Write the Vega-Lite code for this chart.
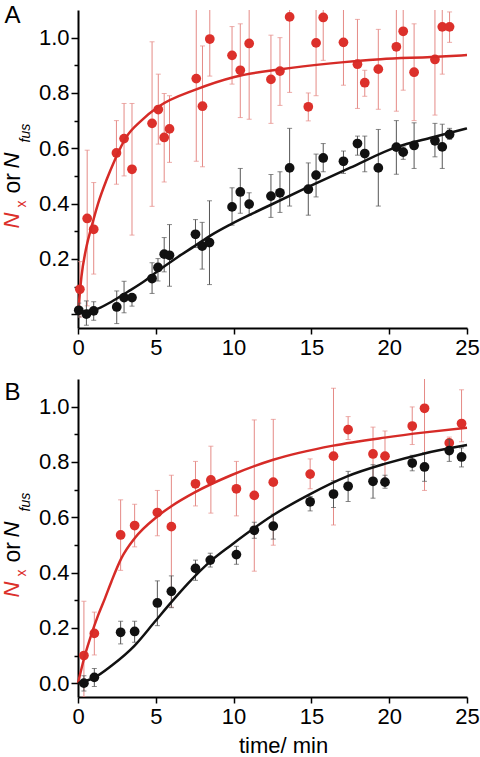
{
  "$schema": "https://vega.github.io/schema/vega-lite/v6.json",
  "padding": {"left": 0, "top": 3, "right": 0, "bottom": 0},
  "spacing": 21,
  "config": {
    "view": {"stroke": null},
    "font": "Liberation Sans",
    "axis": {
      "grid": false,
      "domainColor": "#000000",
      "domainWidth": 2,
      "tickColor": "#000000",
      "tickWidth": 1.5,
      "labelFont": "Liberation Sans",
      "labelFontSize": 22,
      "labelColor": "#000000",
      "titleFont": "Liberation Sans",
      "titleFontWeight": "normal",
      "titleColor": "#000000",
      "labelFlush": false,
      "labelOverlap": false
    }
  },
  "datasets": {
    "pts": [
      {"panel": "A", "s": "red", "t": 0.12, "y": 0.09, "lo": -0.01, "hi": 0.19},
      {"panel": "A", "s": "red", "t": 0.59, "y": 0.346, "lo": 0.03, "hi": 0.593},
      {"panel": "A", "s": "red", "t": 1.01, "y": 0.307, "lo": 0.145, "hi": 0.476},
      {"panel": "A", "s": "red", "t": 2.47, "y": 0.583, "lo": 0.47, "hi": 0.70},
      {"panel": "A", "s": "red", "t": 2.96, "y": 0.635, "lo": 0.50, "hi": 0.762},
      {"panel": "A", "s": "red", "t": 3.47, "y": 0.524, "lo": 0.286, "hi": 0.762},
      {"panel": "A", "s": "red", "t": 4.76, "y": 0.690, "lo": 0.39, "hi": 0.985},
      {"panel": "A", "s": "red", "t": 5.16, "y": 0.740, "lo": 0.615, "hi": 0.868},
      {"panel": "A", "s": "red", "t": 5.54, "y": 0.639, "lo": 0.478, "hi": 0.798},
      {"panel": "A", "s": "red", "t": 5.88, "y": 0.670, "lo": 0.549, "hi": 0.79},
      {"panel": "A", "s": "red", "t": 7.60, "y": 0.852, "lo": 0.553, "hi": 1.15},
      {"panel": "A", "s": "red", "t": 8.0, "y": 0.752, "lo": 0.533, "hi": 0.97},
      {"panel": "A", "s": "red", "t": 8.47, "y": 0.995, "lo": 0.861, "hi": 1.15},
      {"panel": "A", "s": "red", "t": 9.9, "y": 0.936, "lo": 0.832, "hi": 1.04},
      {"panel": "A", "s": "red", "t": 10.43, "y": 0.882, "lo": 0.711, "hi": 1.05},
      {"panel": "A", "s": "red", "t": 11.0, "y": 0.979, "lo": 0.705, "hi": 1.15},
      {"panel": "A", "s": "red", "t": 12.4, "y": 0.849, "lo": 0.69, "hi": 1.009},
      {"panel": "A", "s": "red", "t": 12.98, "y": 0.879, "lo": 0.755, "hi": 1.0},
      {"panel": "A", "s": "red", "t": 13.6, "y": 1.075, "lo": 0.802, "hi": 1.15},
      {"panel": "A", "s": "red", "t": 14.8, "y": 0.750, "lo": 0.699, "hi": 0.80},
      {"panel": "A", "s": "red", "t": 15.3, "y": 0.981, "lo": 0.79, "hi": 1.15},
      {"panel": "A", "s": "red", "t": 15.76, "y": 1.073, "lo": 0.918, "hi": 1.15},
      {"panel": "A", "s": "red", "t": 17.06, "y": 0.983, "lo": 0.828, "hi": 1.15},
      {"panel": "A", "s": "red", "t": 17.96, "y": 0.904, "lo": 0.744, "hi": 1.066},
      {"panel": "A", "s": "red", "t": 18.43, "y": 0.837, "lo": 0.788, "hi": 0.882},
      {"panel": "A", "s": "red", "t": 19.3, "y": 0.886, "lo": 0.741, "hi": 1.03},
      {"panel": "A", "s": "red", "t": 20.46, "y": 0.967, "lo": 0.734, "hi": 1.15},
      {"panel": "A", "s": "red", "t": 20.9, "y": 1.023, "lo": 0.81, "hi": 1.15},
      {"panel": "A", "s": "red", "t": 21.6, "y": 0.875, "lo": 0.70, "hi": 1.05},
      {"panel": "A", "s": "red", "t": 22.94, "y": 0.921, "lo": 0.72, "hi": 1.15},
      {"panel": "A", "s": "red", "t": 23.41, "y": 1.039, "lo": 0.868, "hi": 1.15},
      {"panel": "A", "s": "red", "t": 23.88, "y": 1.039, "lo": 0.983, "hi": 1.093},
      {"panel": "A", "s": "black", "t": 0.05, "y": 0.014, "lo": -0.01, "hi": 0.04},
      {"panel": "A", "s": "black", "t": 0.54, "y": 0.0, "lo": -0.04, "hi": 0.048},
      {"panel": "A", "s": "black", "t": 1.01, "y": 0.012, "lo": -0.022, "hi": 0.045},
      {"panel": "A", "s": "black", "t": 2.49, "y": 0.026, "lo": -0.034, "hi": 0.084},
      {"panel": "A", "s": "black", "t": 2.96, "y": 0.060, "lo": 0.005, "hi": 0.119},
      {"panel": "A", "s": "black", "t": 3.47, "y": 0.060, "lo": 0.029, "hi": 0.072},
      {"panel": "A", "s": "black", "t": 4.76, "y": 0.129, "lo": 0.075, "hi": 0.186},
      {"panel": "A", "s": "black", "t": 5.14, "y": 0.169, "lo": 0.12, "hi": 0.201},
      {"panel": "A", "s": "black", "t": 5.54, "y": 0.217, "lo": 0.153, "hi": 0.277},
      {"panel": "A", "s": "black", "t": 5.88, "y": 0.213, "lo": 0.101, "hi": 0.324},
      {"panel": "A", "s": "black", "t": 7.55, "y": 0.289, "lo": 0.241, "hi": 0.342},
      {"panel": "A", "s": "black", "t": 7.98, "y": 0.246, "lo": 0.163, "hi": 0.332},
      {"panel": "A", "s": "black", "t": 8.45, "y": 0.259, "lo": 0.107, "hi": 0.41},
      {"panel": "A", "s": "black", "t": 9.9, "y": 0.388, "lo": 0.322, "hi": 0.457},
      {"panel": "A", "s": "black", "t": 10.43, "y": 0.442, "lo": 0.365, "hi": 0.527},
      {"panel": "A", "s": "black", "t": 11.0, "y": 0.398, "lo": 0.358, "hi": 0.439},
      {"panel": "A", "s": "black", "t": 12.4, "y": 0.427, "lo": 0.35, "hi": 0.505},
      {"panel": "A", "s": "black", "t": 12.98, "y": 0.439, "lo": 0.368, "hi": 0.515},
      {"panel": "A", "s": "black", "t": 13.6, "y": 0.529, "lo": 0.391, "hi": 0.672},
      {"panel": "A", "s": "black", "t": 14.8, "y": 0.452, "lo": 0.358, "hi": 0.547},
      {"panel": "A", "s": "black", "t": 15.3, "y": 0.503, "lo": 0.424, "hi": 0.579},
      {"panel": "A", "s": "black", "t": 15.76, "y": 0.565, "lo": 0.515, "hi": 0.617},
      {"panel": "A", "s": "black", "t": 17.06, "y": 0.553, "lo": 0.509, "hi": 0.59},
      {"panel": "A", "s": "black", "t": 17.96, "y": 0.617, "lo": 0.575, "hi": 0.644},
      {"panel": "A", "s": "black", "t": 18.43, "y": 0.581, "lo": 0.515, "hi": 0.644},
      {"panel": "A", "s": "black", "t": 19.3, "y": 0.529, "lo": 0.391, "hi": 0.668},
      {"panel": "A", "s": "black", "t": 20.46, "y": 0.604, "lo": 0.506, "hi": 0.70},
      {"panel": "A", "s": "black", "t": 20.9, "y": 0.586, "lo": 0.56, "hi": 0.605},
      {"panel": "A", "s": "black", "t": 21.6, "y": 0.61, "lo": 0.527, "hi": 0.692},
      {"panel": "A", "s": "black", "t": 22.94, "y": 0.627, "lo": 0.569, "hi": 0.69},
      {"panel": "A", "s": "black", "t": 23.41, "y": 0.605, "lo": 0.527, "hi": 0.687},
      {"panel": "A", "s": "black", "t": 23.88, "y": 0.65, "lo": 0.632, "hi": 0.672},
      {"panel": "B", "s": "red", "t": 0.38, "y": 0.1, "lo": -0.05, "hi": 0.296},
      {"panel": "B", "s": "red", "t": 1.05, "y": 0.18, "lo": 0.102, "hi": 0.257},
      {"panel": "B", "s": "red", "t": 2.74, "y": 0.536, "lo": 0.408, "hi": 0.663},
      {"panel": "B", "s": "red", "t": 3.64, "y": 0.57, "lo": 0.493, "hi": 0.647},
      {"panel": "B", "s": "red", "t": 5.1, "y": 0.617, "lo": 0.533, "hi": 0.697},
      {"panel": "B", "s": "red", "t": 6.0, "y": 0.566, "lo": 0.275, "hi": 0.752},
      {"panel": "B", "s": "red", "t": 7.55, "y": 0.721, "lo": 0.641, "hi": 0.802},
      {"panel": "B", "s": "red", "t": 8.54, "y": 0.735, "lo": 0.615, "hi": 0.857},
      {"panel": "B", "s": "red", "t": 10.18, "y": 0.703, "lo": 0.605, "hi": 0.802},
      {"panel": "B", "s": "red", "t": 11.33, "y": 0.679, "lo": 0.405, "hi": 0.952},
      {"panel": "B", "s": "red", "t": 12.55, "y": 0.727, "lo": 0.499, "hi": 0.954},
      {"panel": "B", "s": "red", "t": 14.92, "y": 0.756, "lo": 0.703, "hi": 0.811},
      {"panel": "B", "s": "red", "t": 16.42, "y": 0.821, "lo": 0.572, "hi": 1.067},
      {"panel": "B", "s": "red", "t": 17.36, "y": 0.917, "lo": 0.881, "hi": 0.964},
      {"panel": "B", "s": "red", "t": 18.96, "y": 0.829, "lo": 0.736, "hi": 0.926},
      {"panel": "B", "s": "red", "t": 19.73, "y": 0.821, "lo": 0.73, "hi": 0.912},
      {"panel": "B", "s": "red", "t": 21.48, "y": 0.93, "lo": 0.863, "hi": 0.999},
      {"panel": "B", "s": "red", "t": 22.27, "y": 0.994, "lo": 0.697, "hi": 1.12},
      {"panel": "B", "s": "red", "t": 23.86, "y": 0.869, "lo": 0.85, "hi": 0.89},
      {"panel": "B", "s": "red", "t": 24.65, "y": 0.939, "lo": 0.873, "hi": 1.061},
      {"panel": "B", "s": "black", "t": 0.38, "y": 0.0, "lo": -0.028, "hi": 0.027},
      {"panel": "B", "s": "black", "t": 1.05, "y": 0.021, "lo": -0.012, "hi": 0.053},
      {"panel": "B", "s": "black", "t": 2.74, "y": 0.184, "lo": 0.142, "hi": 0.224},
      {"panel": "B", "s": "black", "t": 3.64, "y": 0.187, "lo": 0.148, "hi": 0.224},
      {"panel": "B", "s": "black", "t": 5.1, "y": 0.29, "lo": 0.208, "hi": 0.37},
      {"panel": "B", "s": "black", "t": 6.0, "y": 0.332, "lo": 0.273, "hi": 0.388},
      {"panel": "B", "s": "black", "t": 7.55, "y": 0.415, "lo": 0.372, "hi": 0.445},
      {"panel": "B", "s": "black", "t": 8.5, "y": 0.445, "lo": 0.42, "hi": 0.47},
      {"panel": "B", "s": "black", "t": 10.18, "y": 0.465, "lo": 0.43, "hi": 0.495},
      {"panel": "B", "s": "black", "t": 11.33, "y": 0.553, "lo": 0.524, "hi": 0.582},
      {"panel": "B", "s": "black", "t": 12.55, "y": 0.568, "lo": 0.521, "hi": 0.611},
      {"panel": "B", "s": "black", "t": 14.92, "y": 0.656, "lo": 0.623, "hi": 0.675},
      {"panel": "B", "s": "black", "t": 16.42, "y": 0.684, "lo": 0.635, "hi": 0.732},
      {"panel": "B", "s": "black", "t": 17.36, "y": 0.712, "lo": 0.657, "hi": 0.766},
      {"panel": "B", "s": "black", "t": 18.96, "y": 0.73, "lo": 0.669, "hi": 0.79},
      {"panel": "B", "s": "black", "t": 19.73, "y": 0.727, "lo": 0.705, "hi": 0.752},
      {"panel": "B", "s": "black", "t": 21.48, "y": 0.796, "lo": 0.768, "hi": 0.824},
      {"panel": "B", "s": "black", "t": 22.27, "y": 0.782, "lo": 0.73, "hi": 0.833},
      {"panel": "B", "s": "black", "t": 23.86, "y": 0.841, "lo": 0.802, "hi": 0.881},
      {"panel": "B", "s": "black", "t": 24.65, "y": 0.818, "lo": 0.782, "hi": 0.851}
    ],
    "fit": [
      {"panel": "A", "s": "red", "t": 0, "y": 0.0},
      {"panel": "A", "s": "red", "t": 0.22, "y": 0.135},
      {"panel": "A", "s": "red", "t": 0.54, "y": 0.243},
      {"panel": "A", "s": "red", "t": 0.87, "y": 0.316},
      {"panel": "A", "s": "red", "t": 1.29, "y": 0.40},
      {"panel": "A", "s": "red", "t": 1.83, "y": 0.485},
      {"panel": "A", "s": "red", "t": 2.36, "y": 0.557},
      {"panel": "A", "s": "red", "t": 3.11, "y": 0.641},
      {"panel": "A", "s": "red", "t": 4.07, "y": 0.70},
      {"panel": "A", "s": "red", "t": 5.16, "y": 0.75},
      {"panel": "A", "s": "red", "t": 7.6, "y": 0.813},
      {"panel": "A", "s": "red", "t": 10.05, "y": 0.858},
      {"panel": "A", "s": "red", "t": 13.04, "y": 0.886},
      {"panel": "A", "s": "red", "t": 16.25, "y": 0.907},
      {"panel": "A", "s": "red", "t": 19.45, "y": 0.922},
      {"panel": "A", "s": "red", "t": 22.7, "y": 0.93},
      {"panel": "A", "s": "red", "t": 25, "y": 0.937},
      {"panel": "A", "s": "black", "t": 0, "y": 0.008},
      {"panel": "A", "s": "black", "t": 1.08, "y": 0.016},
      {"panel": "A", "s": "black", "t": 2.15, "y": 0.045},
      {"panel": "A", "s": "black", "t": 3.2, "y": 0.081},
      {"panel": "A", "s": "black", "t": 4.28, "y": 0.120},
      {"panel": "A", "s": "black", "t": 5.35, "y": 0.165},
      {"panel": "A", "s": "black", "t": 6.42, "y": 0.207},
      {"panel": "A", "s": "black", "t": 7.49, "y": 0.246},
      {"panel": "A", "s": "black", "t": 8.56, "y": 0.286},
      {"panel": "A", "s": "black", "t": 9.84, "y": 0.326},
      {"panel": "A", "s": "black", "t": 12.3, "y": 0.393},
      {"panel": "A", "s": "black", "t": 14.8, "y": 0.460},
      {"panel": "A", "s": "black", "t": 17.5, "y": 0.530},
      {"panel": "A", "s": "black", "t": 20.5, "y": 0.605},
      {"panel": "A", "s": "black", "t": 22.8, "y": 0.640},
      {"panel": "A", "s": "black", "t": 25, "y": 0.672},
      {"panel": "B", "s": "red", "t": 0, "y": 0.0},
      {"panel": "B", "s": "red", "t": 0.44, "y": 0.10},
      {"panel": "B", "s": "red", "t": 0.87, "y": 0.178},
      {"panel": "B", "s": "red", "t": 1.29, "y": 0.245},
      {"panel": "B", "s": "red", "t": 1.72, "y": 0.305},
      {"panel": "B", "s": "red", "t": 2.15, "y": 0.368},
      {"panel": "B", "s": "red", "t": 2.79, "y": 0.452},
      {"panel": "B", "s": "red", "t": 3.64, "y": 0.524},
      {"panel": "B", "s": "red", "t": 5.1, "y": 0.603},
      {"panel": "B", "s": "red", "t": 6.0, "y": 0.640},
      {"panel": "B", "s": "red", "t": 7.5, "y": 0.690},
      {"panel": "B", "s": "red", "t": 9.84, "y": 0.752},
      {"panel": "B", "s": "red", "t": 12.55, "y": 0.808},
      {"panel": "B", "s": "red", "t": 16.4, "y": 0.859},
      {"panel": "B", "s": "red", "t": 19.7, "y": 0.888},
      {"panel": "B", "s": "red", "t": 22.3, "y": 0.907},
      {"panel": "B", "s": "red", "t": 25, "y": 0.924},
      {"panel": "B", "s": "black", "t": 0, "y": 0.0},
      {"panel": "B", "s": "black", "t": 1.08, "y": 0.021},
      {"panel": "B", "s": "black", "t": 2.15, "y": 0.063},
      {"panel": "B", "s": "black", "t": 3.64, "y": 0.136},
      {"panel": "B", "s": "black", "t": 4.92, "y": 0.221},
      {"panel": "B", "s": "black", "t": 6.0, "y": 0.293},
      {"panel": "B", "s": "black", "t": 7.06, "y": 0.36},
      {"panel": "B", "s": "black", "t": 8.56, "y": 0.443},
      {"panel": "B", "s": "black", "t": 9.84, "y": 0.499},
      {"panel": "B", "s": "black", "t": 12.55, "y": 0.608},
      {"panel": "B", "s": "black", "t": 14.92, "y": 0.684},
      {"panel": "B", "s": "black", "t": 17.3, "y": 0.748},
      {"panel": "B", "s": "black", "t": 19.7, "y": 0.793},
      {"panel": "B", "s": "black", "t": 22.2, "y": 0.83},
      {"panel": "B", "s": "black", "t": 25, "y": 0.861}
    ]
  },
  "vconcat": [
    {
      "width": 389,
      "height": 318,
      "resolve": {"axis": {"y": "independent"}},
      "layer": [
        {
          "data": {"name": "pts"},
          "transform": [{"filter": "datum.panel == 'A' && datum.s == 'red'"}],
          "mark": {"type": "errorbar", "color": "#e58a86", "thickness": 1, "ticks": {"size": 5, "thickness": 1}, "clip": true},
          "encoding": {
            "x": {"field": "t", "type": "quantitative", "scale": {"domain": [0, 25], "nice": false, "zero": false},
              "axis": {"title": null, "values": [0, 2.5, 5, 7.5, 10, 12.5, 15, 17.5, 20, 22.5, 25], "labelExpr": "datum.value % 5 == 0 ? datum.label : ''", "tickSize": {"condition": {"test": "datum.value % 5 != 0", "value": 4}, "value": 6}, "labelPadding": 3}},
            "y": {"field": "lo", "type": "quantitative", "scale": {"domain": [-0.05, 1.1], "nice": false, "zero": false},
              "axis": {"orient": "left", "values": [0, 0.1, 0.2, 0.3, 0.4, 0.5, 0.6, 0.7, 0.8, 0.9, 1.0], "labelExpr": "(round(datum.value*10) % 2 == 0 && datum.value > 0.05) ? format(datum.value, '.1f') : ''", "tickSize": {"condition": {"test": "round(datum.value*10) % 2 != 0", "value": 4}, "value": 7}, "labelPadding": 2,
                "title": "or", "titleFontSize": 23, "titleAngle": -90, "titleAlign": "left", "titleBaseline": "alphabetic", "titleX": -58.5, "titleY": 183}},
            "y2": {"field": "hi"}
          }
        },
        {
          "data": {"name": "pts"},
          "transform": [{"filter": "datum.panel == 'A' && datum.s == 'red'"}],
          "mark": {"type": "circle", "size": 95, "color": "#dc302b", "opacity": 1},
          "encoding": {
            "x": {"field": "t", "type": "quantitative"},
            "y": {"field": "y", "type": "quantitative",
              "axis": {"orient": "left", "domain": false, "ticks": false, "labels": false, "title": "N", "titleColor": "#dc302b", "titleFontSize": 22, "titleFontStyle": "italic", "titleAngle": -90, "titleAlign": "left", "titleBaseline": "alphabetic", "titleX": -59.5, "titleY": 218}}
          }
        },
        {
          "data": {"name": "fit"},
          "transform": [{"filter": "datum.panel == 'A' && datum.s == 'red'"}],
          "mark": {"type": "line", "color": "#d62b27", "strokeWidth": 2.5, "interpolate": "monotone"},
          "encoding": {
            "x": {"field": "t", "type": "quantitative"},
            "y": {"field": "y", "type": "quantitative",
              "axis": {"orient": "left", "domain": false, "ticks": false, "labels": false, "title": "x", "titleColor": "#dc302b", "titleFontSize": 14, "titleAngle": -90, "titleAlign": "left", "titleBaseline": "alphabetic", "titleX": -52.5, "titleY": 197}}
          }
        },
        {
          "data": {"name": "pts"},
          "transform": [{"filter": "datum.panel == 'A' && datum.s == 'black'"}],
          "mark": {"type": "errorbar", "color": "#555555", "thickness": 1, "ticks": {"size": 5, "thickness": 1}, "clip": true},
          "encoding": {
            "x": {"field": "t", "type": "quantitative"},
            "y": {"field": "lo", "type": "quantitative",
              "axis": {"orient": "left", "domain": false, "ticks": false, "labels": false, "title": "N", "titleFontSize": 22, "titleFontStyle": "italic", "titleAngle": -90, "titleAlign": "left", "titleBaseline": "alphabetic", "titleX": -59.5, "titleY": 158}},
            "y2": {"field": "hi"}
          }
        },
        {
          "data": {"name": "pts"},
          "transform": [{"filter": "datum.panel == 'A' && datum.s == 'black'"}],
          "mark": {"type": "circle", "size": 95, "color": "#111111", "opacity": 1},
          "encoding": {
            "x": {"field": "t", "type": "quantitative"},
            "y": {"field": "y", "type": "quantitative",
              "axis": {"orient": "left", "domain": false, "ticks": false, "labels": false, "title": "fus", "titleFontSize": 14, "titleFontStyle": "italic", "titleAngle": -90, "titleAlign": "left", "titleBaseline": "alphabetic", "titleX": -48.5, "titleY": 132}}
          }
        },
        {
          "data": {"name": "fit"},
          "transform": [{"filter": "datum.panel == 'A' && datum.s == 'black'"}],
          "mark": {"type": "line", "color": "#111111", "strokeWidth": 2.5, "interpolate": "monotone"},
          "encoding": {
            "x": {"field": "t", "type": "quantitative"},
            "y": {"field": "y", "type": "quantitative",
              "axis": {"orient": "left", "domain": false, "ticks": false, "labels": false, "title": "A", "titleFontSize": 24, "titleAngle": 0, "titleAlign": "left", "titleBaseline": "alphabetic", "titleX": -74, "titleY": 12}}
          }
        }
      ]
    },
    {
      "width": 389,
      "height": 318,
      "resolve": {"axis": {"y": "independent"}},
      "layer": [
        {
          "data": {"name": "pts"},
          "transform": [{"filter": "datum.panel == 'B' && datum.s == 'red'"}],
          "mark": {"type": "errorbar", "color": "#e58a86", "thickness": 1, "ticks": {"size": 5, "thickness": 1}, "clip": true},
          "encoding": {
            "x": {"field": "t", "type": "quantitative", "scale": {"domain": [0, 25], "nice": false, "zero": false},
              "axis": {"title": "time/ min", "titleFontSize": 22, "titlePadding": 8, "titleX": 205, "titleAlign": "center", "values": [0, 2.5, 5, 7.5, 10, 12.5, 15, 17.5, 20, 22.5, 25], "labelExpr": "datum.value % 5 == 0 ? datum.label : ''", "tickSize": {"condition": {"test": "datum.value % 5 != 0", "value": 4}, "value": 6}, "labelPadding": 3}},
            "y": {"field": "lo", "type": "quantitative", "scale": {"domain": [-0.05, 1.1], "nice": false, "zero": false},
              "axis": {"orient": "left", "values": [0, 0.1, 0.2, 0.3, 0.4, 0.5, 0.6, 0.7, 0.8, 0.9, 1.0], "labelExpr": "round(datum.value*10) % 2 == 0 ? format(datum.value, '.1f') : ''", "tickSize": {"condition": {"test": "round(datum.value*10) % 2 != 0", "value": 4}, "value": 7}, "labelPadding": 2,
                "title": "or", "titleFontSize": 23, "titleAngle": -90, "titleAlign": "left", "titleBaseline": "alphabetic", "titleX": -58.5, "titleY": 183}},
            "y2": {"field": "hi"}
          }
        },
        {
          "data": {"name": "pts"},
          "transform": [{"filter": "datum.panel == 'B' && datum.s == 'red'"}],
          "mark": {"type": "circle", "size": 95, "color": "#dc302b", "opacity": 1},
          "encoding": {
            "x": {"field": "t", "type": "quantitative"},
            "y": {"field": "y", "type": "quantitative",
              "axis": {"orient": "left", "domain": false, "ticks": false, "labels": false, "title": "N", "titleColor": "#dc302b", "titleFontSize": 22, "titleFontStyle": "italic", "titleAngle": -90, "titleAlign": "left", "titleBaseline": "alphabetic", "titleX": -59.5, "titleY": 218}}
          }
        },
        {
          "data": {"name": "fit"},
          "transform": [{"filter": "datum.panel == 'B' && datum.s == 'red'"}],
          "mark": {"type": "line", "color": "#d62b27", "strokeWidth": 2.5, "interpolate": "monotone"},
          "encoding": {
            "x": {"field": "t", "type": "quantitative"},
            "y": {"field": "y", "type": "quantitative",
              "axis": {"orient": "left", "domain": false, "ticks": false, "labels": false, "title": "x", "titleColor": "#dc302b", "titleFontSize": 14, "titleAngle": -90, "titleAlign": "left", "titleBaseline": "alphabetic", "titleX": -52.5, "titleY": 197}}
          }
        },
        {
          "data": {"name": "pts"},
          "transform": [{"filter": "datum.panel == 'B' && datum.s == 'black'"}],
          "mark": {"type": "errorbar", "color": "#555555", "thickness": 1, "ticks": {"size": 5, "thickness": 1}, "clip": true},
          "encoding": {
            "x": {"field": "t", "type": "quantitative"},
            "y": {"field": "lo", "type": "quantitative",
              "axis": {"orient": "left", "domain": false, "ticks": false, "labels": false, "title": "N", "titleFontSize": 22, "titleFontStyle": "italic", "titleAngle": -90, "titleAlign": "left", "titleBaseline": "alphabetic", "titleX": -59.5, "titleY": 158}},
            "y2": {"field": "hi"}
          }
        },
        {
          "data": {"name": "pts"},
          "transform": [{"filter": "datum.panel == 'B' && datum.s == 'black'"}],
          "mark": {"type": "circle", "size": 95, "color": "#111111", "opacity": 1},
          "encoding": {
            "x": {"field": "t", "type": "quantitative"},
            "y": {"field": "y", "type": "quantitative",
              "axis": {"orient": "left", "domain": false, "ticks": false, "labels": false, "title": "fus", "titleFontSize": 14, "titleFontStyle": "italic", "titleAngle": -90, "titleAlign": "left", "titleBaseline": "alphabetic", "titleX": -48.5, "titleY": 132}}
          }
        },
        {
          "data": {"name": "fit"},
          "transform": [{"filter": "datum.panel == 'B' && datum.s == 'black'"}],
          "mark": {"type": "line", "color": "#111111", "strokeWidth": 2.5, "interpolate": "monotone"},
          "encoding": {
            "x": {"field": "t", "type": "quantitative"},
            "y": {"field": "y", "type": "quantitative",
              "axis": {"orient": "left", "domain": false, "ticks": false, "labels": false, "title": "B", "titleFontSize": 24, "titleAngle": 0, "titleAlign": "left", "titleBaseline": "alphabetic", "titleX": -74, "titleY": 20}}
          }
        }
      ]
    }
  ]
}
